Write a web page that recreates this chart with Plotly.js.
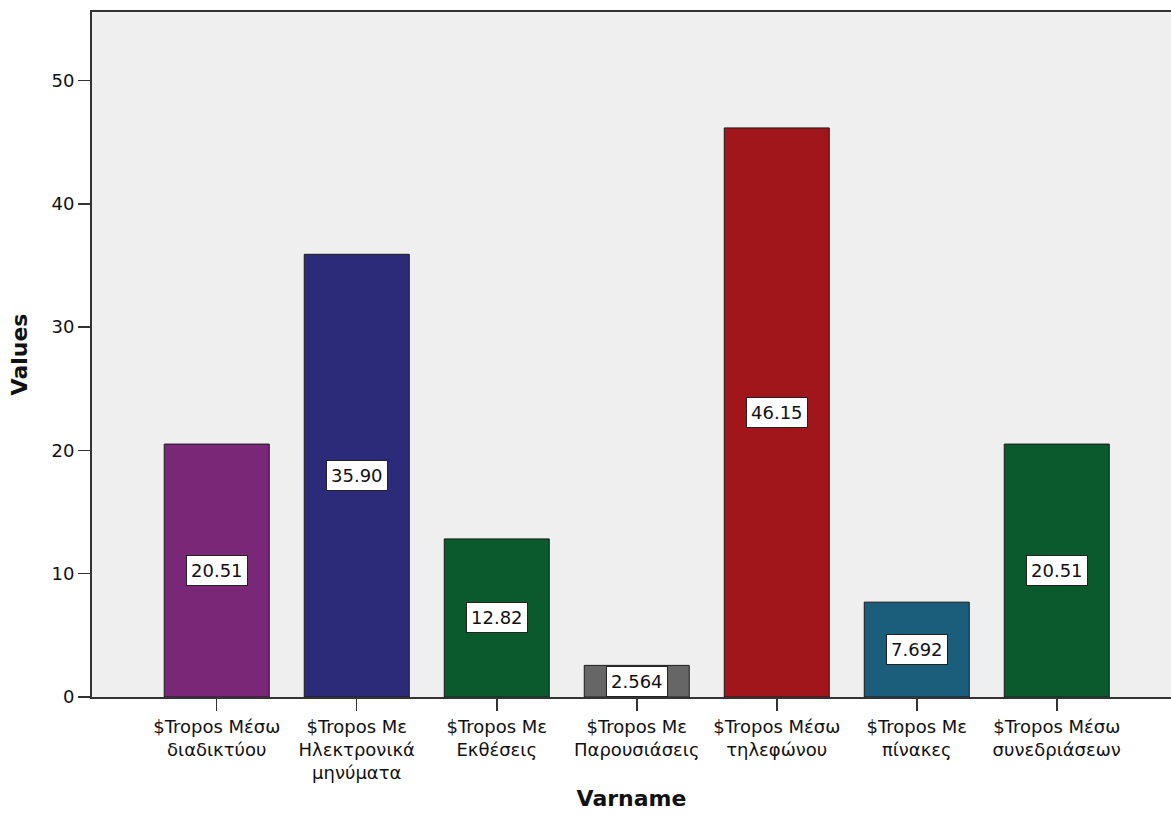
<!DOCTYPE html>
<html>
<head>
<meta charset="utf-8">
<script src="https://cdn.plot.ly/plotly-3.0.1.min.js"></script>
<style>html,body{margin:0;padding:0;background:#fff;}</style>
</head>
<body>
<div id="chart" style="width:1171px;height:821px;"></div>
<script>
// Data
var categories = [
  "$Tropos Μέσω<br>διαδικτύου",
  "$Tropos Με<br>Ηλεκτρονικά<br>μηνύματα",
  "$Tropos Με<br>Εκθέσεις",
  "$Tropos Με<br>Παρουσιάσεις",
  "$Tropos Μέσω<br>τηλεφώνου",
  "$Tropos Με<br>πίνακες",
  "$Tropos Μέσω<br>συνεδριάσεων"
];
var values = [20.51, 35.90, 12.82, 2.564, 46.15, 7.692, 20.51];
var valueLabels = ["20.51", "35.90", "12.82", "2.564", "46.15", "7.692", "20.51"];
var barColors = ["#7b2778", "#2b2b7a", "#0a5a2e", "#666666", "#a1161b", "#1b5e7b", "#0a5a2e"];
var yTicks = [0, 10, 20, 30, 40, 50];

var xIdx = categories.map(function(_, i){ return i; });

var trace = {
  type: "bar",
  x: xIdx,
  y: values,
  width: 0.75,
  marker: {color: barColors, line: {color: "#1a1a1a", width: 1}},
  hoverinfo: "skip"
};

var annotations = values.map(function(v, i){
  return {
    x: i, y: v / 2, xref: "x", yref: "y",
    text: valueLabels[i], showarrow: false,
    font: {family: "DejaVu Sans, sans-serif", size: 18, color: "#111"},
    bgcolor: "#ffffff", bordercolor: "#222", borderwidth: 1, borderpad: 4
  };
});

var layout = {
  width: 1171, height: 821,
  margin: {l: 92, r: 0, t: 12, b: 124},
  paper_bgcolor: "#ffffff",
  plot_bgcolor: "#efefef",
  showlegend: false,
  bargap: 0.25,
  xaxis: {
    range: [-0.891, 6.816],
    tickmode: "array", tickvals: xIdx, ticktext: categories,
    ticks: "outside", ticklen: 12, tickwidth: 1.5, tickcolor: "#333",
    showline: true, linecolor: "#333", linewidth: 2, mirror: true,
    showgrid: false, zeroline: false,
    tickfont: {family: "DejaVu Sans, sans-serif", size: 18, color: "#111"},
    title: {text: "Varname", standoff: 8,
      font: {family: "DejaVu Sans, sans-serif", size: 22, color: "#111", weight: "bold"}},
    automargin: false, fixedrange: true
  },
  yaxis: {
    range: [0, 55.55],
    tickmode: "array", tickvals: yTicks,
    ticks: "outside", ticklen: 12, tickwidth: 1.5, tickcolor: "#333",
    showline: true, linecolor: "#333", linewidth: 2,
    showgrid: false, zeroline: false,
    tickfont: {family: "DejaVu Sans, sans-serif", size: 18, color: "#111"},
    title: {text: "Values", standoff: 18,
      font: {family: "DejaVu Sans, sans-serif", size: 22, color: "#111", weight: "bold"}},
    automargin: false, fixedrange: true
  },
  annotations: annotations
};

Plotly.newPlot("chart", [trace], layout, {displayModeBar: false, staticPlot: true});
</script>
</body>
</html>
